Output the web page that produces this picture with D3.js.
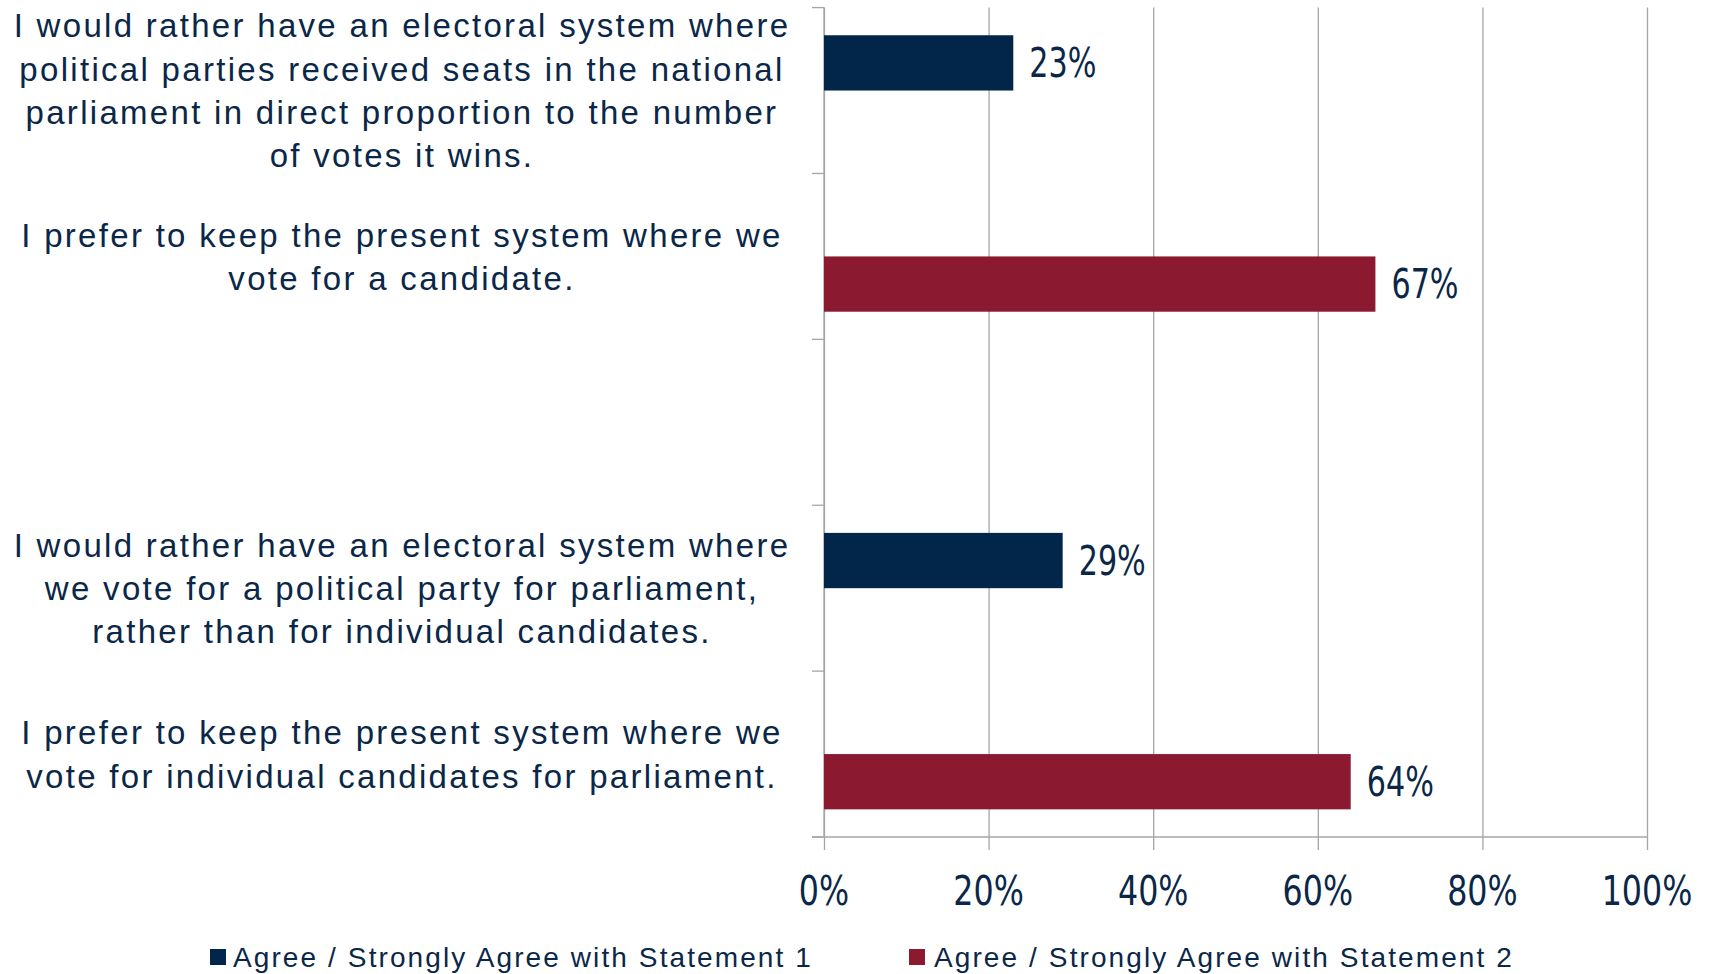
<!DOCTYPE html>
<html>
<head>
<meta charset="utf-8">
<script src="https://cdn.jsdelivr.net/npm/d3@7"></script>
<style>
  html, body { margin: 0; padding: 0; background: #ffffff; }
  svg { display: block; }
</style>
</head>
<body>
<svg id="chart" width="1709" height="974"></svg>
<script>
// ---- data ----
const categories = ["c1", "c2", "gap", "c3", "c4"];
const categoryLabels = [
  ["I would rather have an electoral system where", "political parties received seats in the national", "parliament in direct proportion to the number", "of votes it wins."],
  ["I prefer to keep the present system where we", "vote for a candidate."],
  [],
  ["I would rather have an electoral system where", "we vote for a political party for parliament,", "rather than for individual candidates."],
  ["I prefer to keep the present system where we", "vote for individual candidates for parliament."]
];
const seriesNames = ["Agree / Strongly Agree with Statement 1", "Agree / Strongly Agree with Statement 2"];
const statement1 = [23, null, null, 29, null];
const statement2 = [null, 67, null, null, 64];
const xTicks = [0, 20, 40, 60, 80, 100];

// ---- styles ----
const colors = ["#022649", "#8b1a31"];
const textColor = "#0b2748";
const gridColor = "#a6a6a6";
const labelFont = "'Liberation Sans', Arial, sans-serif";
const numFont = "'Liberation Sans Narrow', 'Arial Narrow', 'DejaVu Sans Condensed', sans-serif";

const svg = d3.select("#chart");
const plot = { left: 824, right: 1647, top: 7.6, bottom: 837 };

const x = d3.scaleLinear().domain([0, 100]).range([plot.left, plot.right]);
const y = d3.scaleBand().domain(categories).range([plot.top, plot.bottom]).padding(0);
const ySub = d3.scaleBand().domain([0, 1]).range([0, y.bandwidth()]).paddingInner(0).paddingOuter(0.5);

// gridlines + bottom ticks
const xAxis = d3.axisBottom(x).tickValues(xTicks).tickSize(-(plot.bottom - plot.top)).tickFormat("");
const gx = svg.append("g").attr("transform", `translate(0,${plot.bottom})`).call(xAxis);
gx.select(".domain").remove();
gx.selectAll(".tick line").attr("stroke", gridColor).attr("stroke-width", 1.3)
  .attr("y2", -(plot.bottom - plot.top)).attr("y1", 13);

// x axis line (extends left to y tick length)
svg.append("line").attr("x1", plot.left - 12).attr("x2", plot.right)
  .attr("y1", plot.bottom).attr("y2", plot.bottom).attr("stroke", gridColor).attr("stroke-width", 1.3);

// y axis line + ticks at band boundaries
svg.append("line").attr("x1", plot.left).attr("x2", plot.left)
  .attr("y1", plot.top).attr("y2", plot.bottom).attr("stroke", gridColor).attr("stroke-width", 1.3);
const boundaries = categories.map(c => y(c)).concat([plot.bottom]);
svg.append("g").selectAll("line").data(boundaries).join("line")
  .attr("x1", plot.left - 12).attr("x2", plot.left)
  .attr("y1", d => d).attr("y2", d => d)
  .attr("stroke", gridColor).attr("stroke-width", 1.3);

// x tick labels (condensed horizontally)
svg.append("g").selectAll("text").data(xTicks).join("text")
  .attr("transform", d => `translate(${x(d)},905) scale(0.86,1)`)
  .attr("text-anchor", "middle")
  .attr("font-family", numFont).attr("font-size", 41)
  .attr("fill", textColor)
  .text(d => d + "%");

// bars
const series = [statement1, statement2];
series.forEach((vals, si) => {
  const data = categories.map((c, i) => ({ c, v: vals[i] })).filter(d => d.v != null);
  svg.append("g").selectAll("rect").data(data).join("rect")
    .attr("x", x(0)).attr("y", d => y(d.c) + ySub(si))
    .attr("width", d => x(d.v) - x(0)).attr("height", ySub.bandwidth())
    .attr("fill", colors[si]);
  svg.append("g").selectAll("text").data(data).join("text")
    .attr("transform", d => `translate(${x(d.v) + 16},${y(d.c) + ySub(si) + ySub.bandwidth() / 2}) scale(0.84,1)`)
    .attr("dy", "0.36em")
    .attr("font-family", numFont).attr("font-size", 40)
    .attr("fill", textColor)
    .text(d => d.v + "%");
});

// category labels
const lineH = 43.4;
const labelX = 402;
categories.forEach((c, i) => {
  const lines = categoryLabels[i];
  if (!lines.length) return;
  const cy = y(c) + y.bandwidth() / 2;
  const t = svg.append("text").attr("text-anchor", "middle")
    .attr("font-family", labelFont).attr("font-size", 33)
    .attr("letter-spacing", "2.3px")
    .attr("fill", textColor);
  lines.forEach((ln, j) => {
    t.append("tspan").attr("x", labelX)
      .attr("y", cy + (j - (lines.length - 1) / 2) * lineH + 11.8)
      .text(ln);
  });
});

// legend
const legendItems = [{ x: 210, tx: 233 }, { x: 909, tx: 934 }];
legendItems.forEach((it, i) => {
  svg.append("rect").attr("x", it.x).attr("y", 949).attr("width", 16).attr("height", 16).attr("fill", colors[i]);
  svg.append("text").attr("x", it.tx).attr("y", 967)
    .attr("font-family", labelFont).attr("font-size", 28)
    .attr("letter-spacing", "2.1px")
    .attr("fill", textColor).text(seriesNames[i]);
});
</script>
</body>
</html>
